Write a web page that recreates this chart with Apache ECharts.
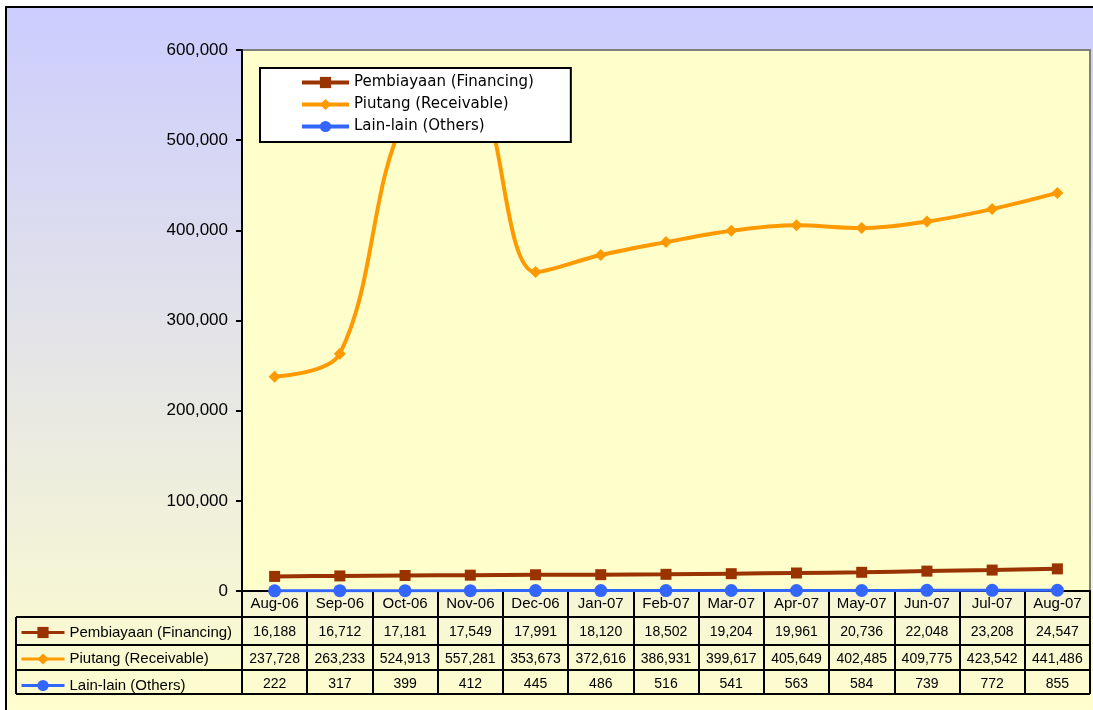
<!DOCTYPE html>
<html>
<head>
<meta charset="utf-8">
<title>Pembiayaan / Piutang / Lain-lain</title>
<script src="https://cdn.jsdelivr.net/npm/echarts@6/dist/echarts.min.js"></script>
<style>
  html, body { margin: 0; padding: 0; background: #fff; }
  #chart { width: 1093px; height: 710px; }
</style>
</head>
<body>
<div id="chart"></div>
<script>
const categories = ['Aug-06', 'Sep-06', 'Oct-06', 'Nov-06', 'Dec-06', 'Jan-07', 'Feb-07', 'Mar-07', 'Apr-07', 'May-07', 'Jun-07', 'Jul-07', 'Aug-07']
const pembiayaan = [16188, 16712, 17181, 17549, 17991, 18120, 18502, 19204, 19961, 20736, 22048, 23208, 24547]
const piutang = [237728, 263233, 524913, 557281, 353673, 372616, 386931, 399617, 405649, 402485, 409775, 423542, 441486]
const lainLain = [222, 317, 399, 412, 445, 486, 516, 541, 563, 584, 739, 772, 855]
const seriesNames = ['Pembiayaan (Financing)', 'Piutang (Receivable)', 'Lain-lain (Others)']

const fmt = v => String(v).replace(/\B(?=(\d{3})+(?!\d))/g, ',')

const chart = echarts.init(document.getElementById('chart'))

// grid edges in px, the data table hangs below the plot
const gLeft = 242
const gTop = 50
const gRight = 1090
const gBottom = 591
const rows = [617, 645, 670, 694]

function tableAxis(values, offset, margin) {
  return {
    type: 'category',
    data: categories,
    position: 'bottom',
    offset: offset,
    axisLine: { show: false },
    axisTick: { show: false },
    axisLabel: {
      interval: 0,
      margin: margin,
      verticalAlign: 'middle',
      color: '#000',
      fontFamily: 'Liberation Sans',
      fontSize: 14,
      formatter: (v, i) => fmt(values[i])
    }
  }
}

function tableLine(x1, y1, x2, y2) {
  return {
    type: 'line',
    z: 50,
    shape: { x1: x1, y1: y1, x2: x2, y2: y2 },
    style: { stroke: '#000', lineWidth: 2 }
  }
}

chart.setOption({
  backgroundColor: '#fff',
  animation: false,
  graphic: [
    {
      type: 'rect',
      z: -10,
      shape: { x: 6, y: 7, width: 1100, height: 720 },
      style: {
        fill: new echarts.graphic.LinearGradient(0, 0, 0, 1, [
          { offset: 0, color: '#CCCCFF' },
          { offset: 1, color: '#FFFFCC' }
        ]),
        stroke: '#000',
        lineWidth: 2
      }
    },
    tableLine(16, rows[0], gRight, rows[0]),
    tableLine(16, rows[1], gRight, rows[1]),
    tableLine(16, rows[2], gRight, rows[2]),
    tableLine(16, rows[3], gRight, rows[3]),
    tableLine(16, rows[0], 16, rows[3])
  ],
  grid: {
    left: gLeft,
    top: gTop,
    right: 1093 - gRight,
    bottom: 710 - gBottom,
    show: true,
    backgroundColor: '#FFFFCC',
    borderColor: '#808080',
    borderWidth: 2
  },
  legend: [{
    orient: 'vertical',
    left: 260,
    top: 68,
    data: seriesNames,
    backgroundColor: '#fff',
    borderColor: '#000',
    borderWidth: 2,
    padding: [7, 37, 8, 40],
    itemWidth: 47,
    itemHeight: 14,
    itemGap: 7,
    lineStyle: { width: 4 },
    textStyle: { fontFamily: 'DejaVu Sans', fontSize: 15, lineHeight: 14, color: '#000' }
  }, {
    orient: 'vertical',
    left: 20,
    top: 625,
    data: seriesNames,
    padding: 0,
    itemWidth: 43,
    itemHeight: 14,
    itemGap: 11.5,
    lineStyle: { width: 3 },
    textStyle: { fontFamily: 'Liberation Sans', fontSize: 15, lineHeight: 14, color: '#000' }
  }],
  xAxis: [{
    type: 'category',
    data: categories,
    axisLine: { lineStyle: { color: '#000', width: 2 } },
    axisTick: { show: true, interval: 0, length: rows[3] - gBottom, lineStyle: { color: '#000', width: 2 } },
    axisLabel: {
      interval: 0,
      margin: 13,
      verticalAlign: 'middle',
      color: '#000',
      fontFamily: 'Liberation Sans',
      fontSize: 15
    }
  },
  tableAxis(pembiayaan, rows[0] - gBottom, 15),
  tableAxis(piutang, rows[1] - gBottom, 14),
  tableAxis(lainLain, rows[2] - gBottom, 14)
  ],
  yAxis: {
    type: 'value',
    min: 0,
    max: 600000,
    interval: 100000,
    axisLine: { show: true, lineStyle: { color: '#000', width: 2 } },
    axisTick: { show: true, length: 6, lineStyle: { color: '#000', width: 2 } },
    splitLine: { show: false },
    axisLabel: {
      margin: 14,
      color: '#000',
      fontFamily: 'Liberation Sans',
      fontSize: 17,
      formatter: v => fmt(v)
    }
  },
  series: [{
    name: seriesNames[0],
    type: 'line',
    data: pembiayaan,
    smooth: 0.35,
    symbol: 'rect',
    symbolSize: 11,
    color: '#993300',
    lineStyle: { width: 4 }
  }, {
    name: seriesNames[1],
    type: 'line',
    data: piutang,
    smooth: 0.35,
    symbol: 'diamond',
    symbolSize: 12,
    color: '#FF9900',
    lineStyle: { width: 4 }
  }, {
    name: seriesNames[2],
    type: 'line',
    data: lainLain,
    smooth: 0.35,
    symbol: 'circle',
    symbolSize: 13,
    color: '#3366FF',
    lineStyle: { width: 3 }
  }]
})
</script>
</body>
</html>
